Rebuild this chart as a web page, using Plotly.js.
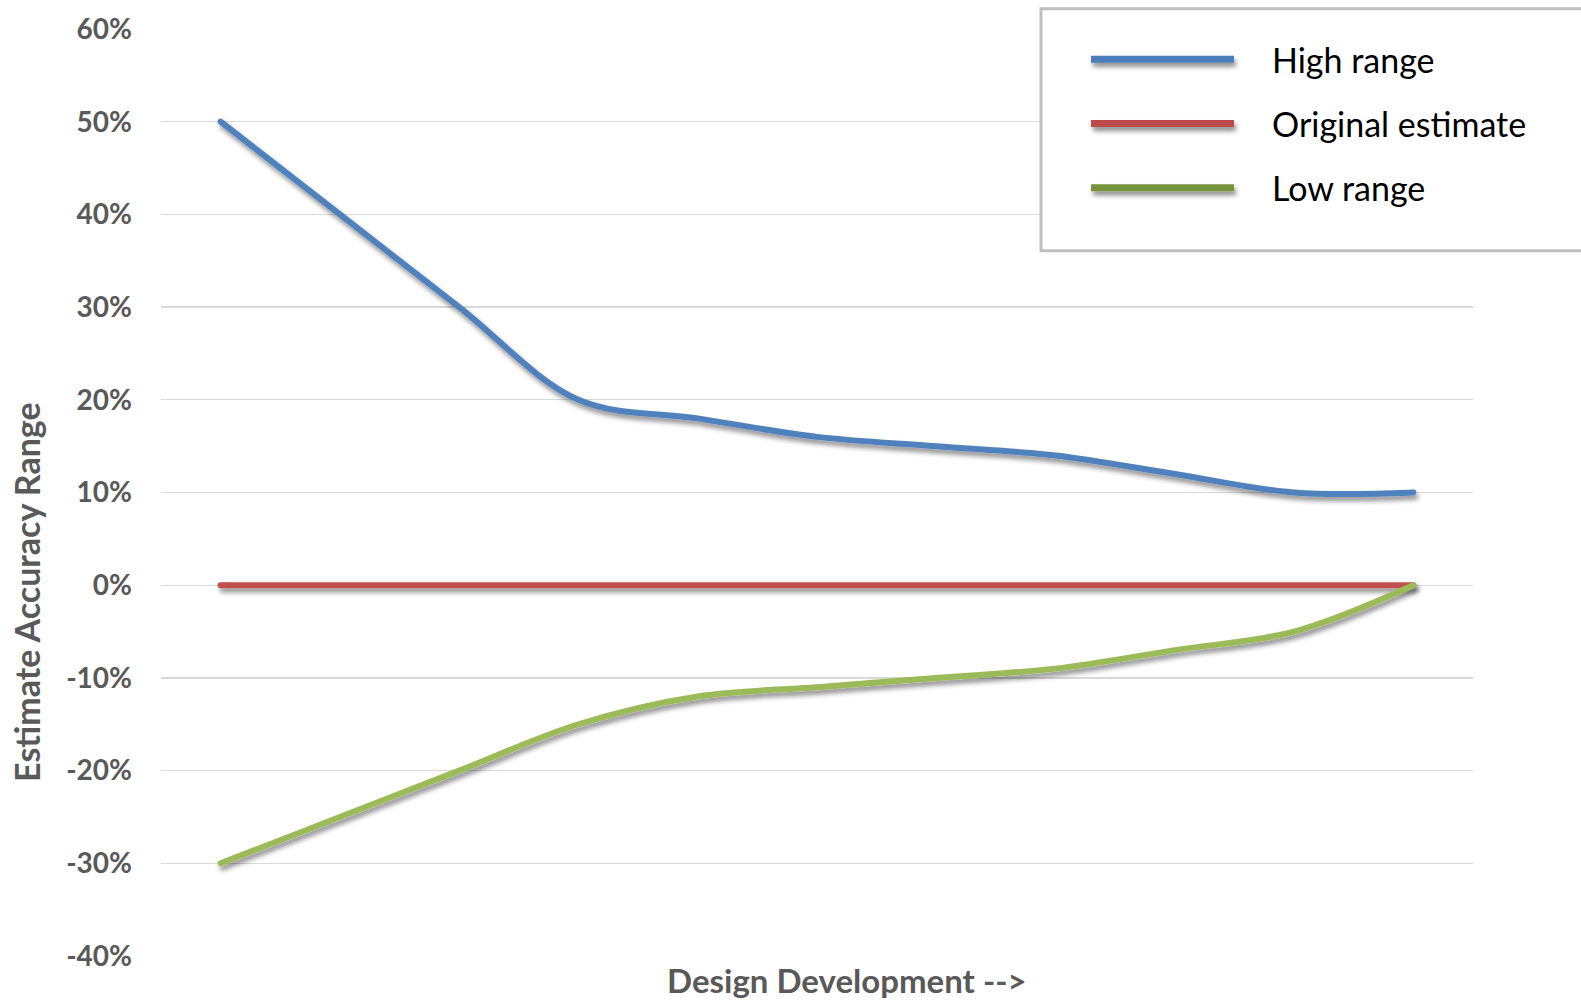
<!DOCTYPE html>
<html>
<head>
<meta charset="utf-8">
<script src="https://cdn.plot.ly/plotly-3.0.1.min.js"></script>
<style>
html,body{margin:0;padding:0;background:#fff;}
#chart{width:1581px;height:1004px;}
.scatterlayer .js-line{stroke-linecap:round;}
</style>
</head>
<body>
<div id="chart"></div>
<script>
// ---- data ----
const stages = ['1','2','3','4','5','6','7','8','9','10','11'];
const highRange = [50, 40, 30, 20, 18, 16, 15, 14, 12, 10, 10];
const originalEstimate = [0, 0, 0, 0, 0, 0, 0, 0, 0, 0, 0];
const lowRange = [-30, -25, -20, -15, -12, -11, -10, -9, -7, -5, 0];
const seriesNames = ['High range', 'Original estimate', 'Low range'];
const yTickValues = [-40, -30, -20, -10, 0, 10, 20, 30, 40, 50, 60];
const yTickLabels = ['-40%', '-30%', '-20%', '-10%', '0%', '10%', '20%', '30%', '40%', '50%', '60%'];
const yTitle = 'Estimate Accuracy Range';
const xTitle = 'Design Development -->';

const colors = ['#4F81BD', '#C0504D', '#9BBB59'];
const legendColors = ['#4A7EBB', '#BE4B48', '#77933C'];
const seriesValues = [highRange, originalEstimate, lowRange];

const traces = seriesValues.map((vals, i) => ({
  type: 'scatter',
  mode: 'lines',
  x: stages,
  y: vals,
  name: seriesNames[i],
  legendgroup: 'g' + i,
  line: {color: colors[i], width: 6, shape: 'spline', smoothing: 1},
  hoverinfo: 'skip'
}));

const L = 161, R = 1473, T = 29.3, B = 956;
const W = 1581, H = 1004;
const px2x = p => (p - L) / (R - L);
const px2y = p => (B - p) / (B - T);

const grayText = '#595959';
const layout = {
  width: W, height: H,
  margin: {l: L, r: W - R, t: T, b: H - B, autoexpand: false},
  paper_bgcolor: '#ffffff',
  plot_bgcolor: '#ffffff',
  font: {family: 'Lato, "Open Sans", sans-serif'},
  showlegend: true,
  xaxis: {
    type: 'category', range: [-0.5, 10.5],
    showticklabels: false, showgrid: false, zeroline: false, showline: false, ticks: ''
  },
  yaxis: {
    range: [-40, 60],
    tickvals: yTickValues, ticktext: yTickLabels,
    showgrid: true, gridcolor: '#d9d9d9', gridwidth: 1.4,
    zeroline: false, showline: false, ticks: '',
    ticklabelstandoff: 28,
    tickfont: {family: 'Lato, sans-serif', size: 28, color: grayText, weight: 'bold'}
  },
  legend: {
    x: px2x(1086), xanchor: 'left',
    y: px2y(31), yanchor: 'top',
    bgcolor: 'rgba(0,0,0,0)', borderwidth: 0,
    itemwidth: 176,
    tracegroupgap: 17,
    font: {family: 'Lato, sans-serif', size: 34, color: '#000000'},
    traceorder: 'grouped'
  },
  shapes: [{
    type: 'rect', xref: 'paper', yref: 'paper',
    x0: px2x(1041), x1: px2x(1660), y0: px2y(251), y1: px2y(9),
    line: {color: '#bfbfbf', width: 3}, fillcolor: '#ffffff', layer: 'above'
  }],
  annotations: [
    {
      text: yTitle, textangle: -90, showarrow: false,
      xref: 'paper', yref: 'paper', x: px2x(27), y: px2y(592),
      xanchor: 'center', yanchor: 'middle',
      font: {family: 'Lato, sans-serif', size: 34, color: grayText, weight: 'bold'}
    },
    {
      text: xTitle, showarrow: false,
      xref: 'paper', yref: 'paper', x: px2x(847), y: px2y(980),
      xanchor: 'center', yanchor: 'middle',
      font: {family: 'Lato, sans-serif', size: 33, color: grayText, weight: 'bold'}
    }
  ]
};

Plotly.newPlot('chart', traces, layout, {displayModeBar: false, staticPlot: true}).then(gd => {
  const svgNS = 'http://www.w3.org/2000/svg';
  const svg = gd.querySelector('.main-svg');
  let defs = svg.querySelector('defs');
  if (!defs) { defs = document.createElementNS(svgNS, 'defs'); svg.insertBefore(defs, svg.firstChild); }
  const f = document.createElementNS(svgNS, 'filter');
  f.setAttribute('id', 'lineShadow');
  f.setAttribute('filterUnits', 'userSpaceOnUse');
  f.setAttribute('x', '-3000'); f.setAttribute('y', '-3000');
  f.setAttribute('width', '8000'); f.setAttribute('height', '8000');
  const ds = document.createElementNS(svgNS, 'feDropShadow');
  ds.setAttribute('dx', '2'); ds.setAttribute('dy', '4');
  ds.setAttribute('stdDeviation', '2.5');
  ds.setAttribute('flood-color', '#000'); ds.setAttribute('flood-opacity', '0.45');
  f.appendChild(ds);
  defs.appendChild(f);
  gd.querySelectorAll('.scatterlayer .js-line').forEach(p => {
    p.setAttribute('filter', 'url(#lineShadow)');
  });
  gd.querySelectorAll('.legend .traces').forEach((g, i) => {
    g.querySelectorAll('.js-line').forEach(p => {
      const d = p.getAttribute('d') || '';
      const m = d.match(/^M([-\d.]+),([-\d.]+)/);
      if (m) p.setAttribute('d', 'M' + m[1] + ',' + m[2] + 'h143');
      p.style.stroke = legendColors[i % legendColors.length];
      p.style.strokeWidth = '7px';
      p.setAttribute('filter', 'url(#lineShadow)');
    });
  });
});
</script>
</body>
</html>
